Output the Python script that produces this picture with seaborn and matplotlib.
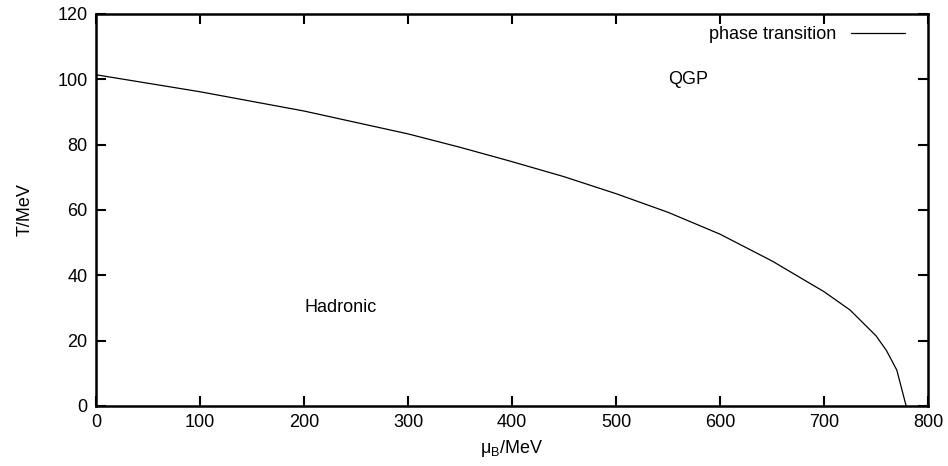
import matplotlib
matplotlib.use("Agg")
import seaborn as sns
import pandas as pd
import matplotlib.pyplot as plt

# phase boundary
mu_b = [0, 100, 200, 300, 350, 400, 450, 500, 550, 600, 650, 700, 725, 750, 760, 770, 779]
temp = [101.4, 96.2, 90.3, 83.3, 79.2, 74.8, 70.2, 65.0, 59.3, 52.6, 44.4, 35.0, 29.4, 21.5, 17.0, 11.0, 0.0]

xticks = [0, 100, 200, 300, 400, 500, 600, 700, 800]
yticks = [0, 20, 40, 60, 80, 100, 120]

df = pd.DataFrame({"mu": mu_b, "T": temp})

sns.set_style("ticks")
plt.rcParams["font.family"] = ["Liberation Sans", "DejaVu Sans"]
plt.rcParams["mathtext.fontset"] = "custom"
plt.rcParams["mathtext.rm"] = "Liberation Sans"
plt.rcParams["mathtext.it"] = "Liberation Sans"
plt.rcParams["mathtext.default"] = "regular"
plt.rcParams["text.color"] = "black"
plt.rcParams["axes.labelcolor"] = "black"

fs = 13

fig = plt.figure(figsize=(9.48, 4.66), dpi=100)
ax = fig.add_axes([96 / 948, 1 - 406 / 466, 832 / 948, 392 / 466])

sns.lineplot(data=df, x="mu", y="T", color="black", linewidth=0.9,
             label="phase transition", ax=ax)

ax.set_xlim(0, 800)
ax.set_ylim(0, 120)
ax.set_xticks(xticks)
ax.set_yticks(yticks)
ax.tick_params(direction="in", length=7, width=1.5, top=True, right=True,
               labelsize=fs, pad=6, colors="black")
for s in ax.spines.values():
    s.set_linewidth(1.8)
    s.set_color("black")

ax.set_xlabel(r"$\mu_{B}$/MeV", fontsize=fs, labelpad=5)
ax.set_ylabel("T/MeV", fontsize=fs, labelpad=17)

ax.text(550, 100, "QGP", fontsize=fs, va="center", ha="left")
ax.text(200, 30, "Hadronic", fontsize=fs, va="center", ha="left")

ax.legend(loc="upper right", frameon=False, markerfirst=False, fontsize=fs,
          handlelength=3.0, handletextpad=0.8, borderaxespad=1.0,
          bbox_to_anchor=(1.003, 1.033))

fig.savefig("out.png", dpi=100)
